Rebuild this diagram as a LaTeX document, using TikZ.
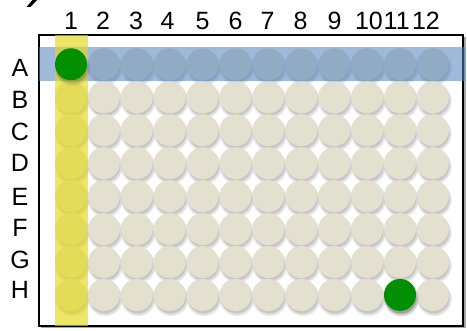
\documentclass[tikz,border=0pt]{standalone}
\usepackage{fontspec}
\setmainfont{Liberation Sans}
\definecolor{wellc}{RGB}{227,224,207}
\definecolor{bandblue}{RGB}{79,129,189}
\definecolor{bandyellow}{RGB}{228,218,25}
\definecolor{hitc}{RGB}{0,143,0}
\begin{document}
\begin{tikzpicture}[x=1pt,y=-1pt,
  wellstyle/.style={circle,fill=wellc,minimum size=32pt,inner sep=0pt},
  hitstyle/.style={circle,fill=hitc,minimum size=32pt,inner sep=0pt},
  lbl/.style={font=\fontsize{25}{25}\selectfont,inner sep=0pt,anchor=base}]
\useasboundingbox (0,0) rectangle (467,331);
% cropped fragment at top left
\fill (32.5,0) -- (37,0) -- (30.5,7) -- (26.5,7) -- cycle;
% plate frame
\fill[black!35] (41,37) rectangle (465.5,328.5);
\fill[white] (39,35) rectangle (463,326);
% well shadows
\foreach \r in {1,...,8}{
  \foreach \c in {1,...,12}{
    \pgfmathsetmacro{\xx}{71+32.9*(\c-1)}
    \pgfmathsetmacro{\yy}{64.3+32.95*(\r-1)}
    \fill[black,opacity=0.06] (\xx+1.5,\yy+4) circle (17.5);
    \fill[black,opacity=0.08] (\xx+1.5,\yy+3.5) circle (16.5);
    \fill[black,opacity=0.10] (\xx+1,\yy+3) circle (15.5);
  }
}
% wells
\foreach \r/\rl in {1/A,2/B,3/C,4/D,5/E,6/F,7/G,8/H}{
  \foreach \c in {1,...,12}{
    \pgfmathsetmacro{\xx}{71+32.9*(\c-1)}
    \pgfmathsetmacro{\yy}{64.3+32.95*(\r-1)}
    \node[wellstyle] (w\rl\c) at (\xx,\yy) {};
  }
}
\draw[line width=1.3pt] (39,35) rectangle (463,326);
% highlight bands
\fill[bandblue,opacity=0.55] (39,47.5) rectangle (465,81);
\fill[bandyellow,opacity=0.65] (55,35) rectangle (88,326.5);
% hit wells
\foreach \n in {wA1,wH11}{
  \fill[black,opacity=0.08] ([shift={(1.5,4)}]\n.center) circle (17.5);
  \fill[black,opacity=0.12] ([shift={(1,3)}]\n.center) circle (16);
}
\node[hitstyle] (hA1) at (wA1) {};
\node[hitstyle] (hH11) at (wH11) {};
% column labels
\foreach \c/\x in {1/71,2/103,3/136,4/167.5,5/202.5,6/235.5,7/267.5,8/300.5,9/334.5,10/369,11/396.7,12/426}{
  \node[lbl] (col\c) at (\x,30) {\c};
}
% row labels
\foreach \rl/\y in {A/68,B/100,C/132,D/163,E/197,F/228,G/260,H/290}{
  \node[lbl] (row\rl) at (20,\y+9) {\rl};
}
\end{tikzpicture}
\end{document}
